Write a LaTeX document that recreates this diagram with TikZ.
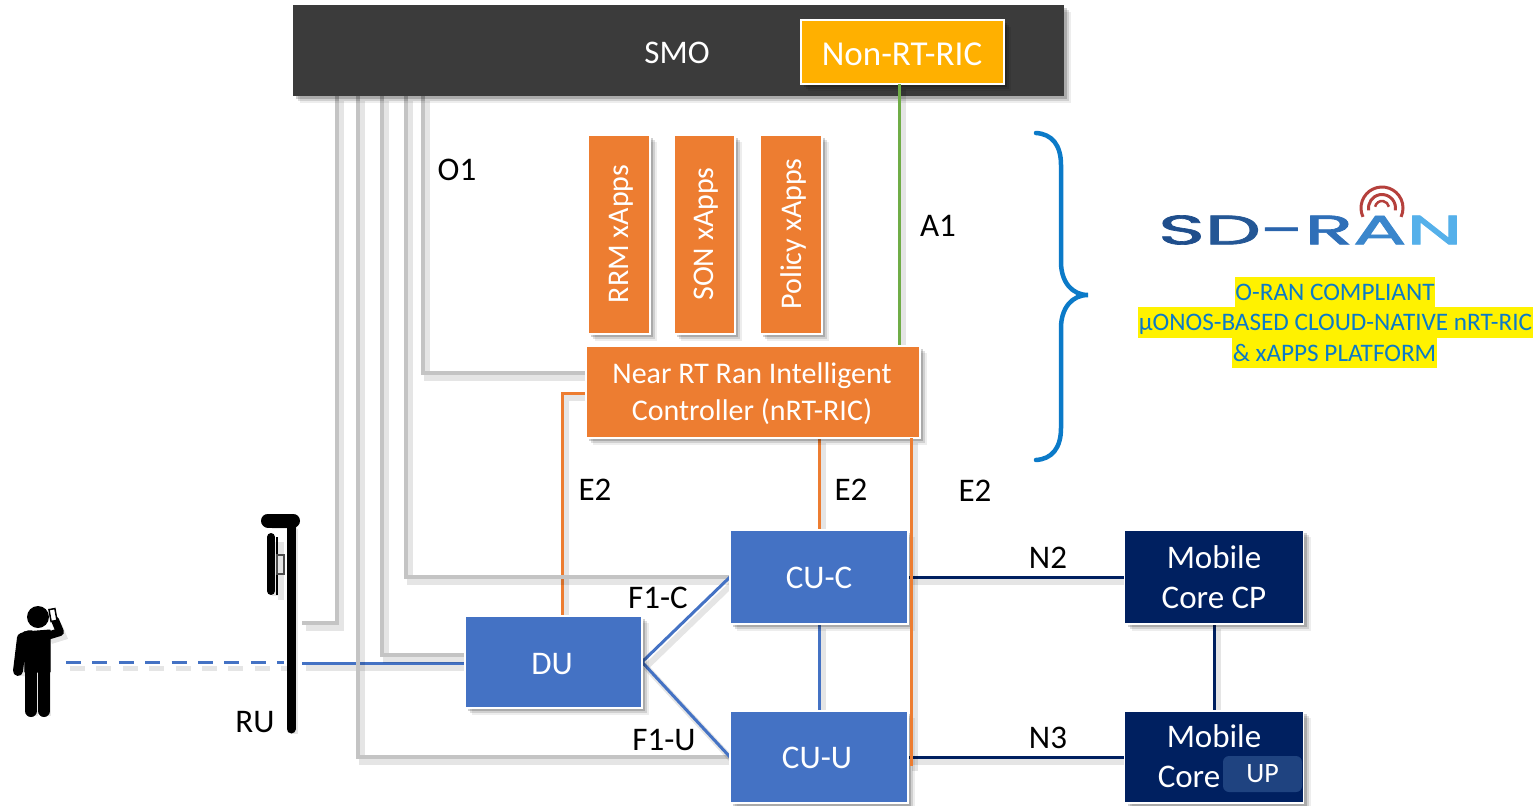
\documentclass[tikz,border=0pt]{standalone}
\usepackage{fontspec}
\setmainfont{Carlito}
\newfontfamily\logofont[FakeBold=1.6]{Poppins}
\usetikzlibrary{shadows}
\definecolor{smoc}{HTML}{3B3B3B}
\definecolor{ambc}{HTML}{FFB000}
\definecolor{orgc}{HTML}{ED7D31}
\definecolor{bluc}{HTML}{4472C4}
\definecolor{navc}{HTML}{002060}
\definecolor{grac}{HTML}{C4C4C4}
\definecolor{grnc}{HTML}{70AD47}
\definecolor{brac}{HTML}{0B7AC8}
\definecolor{upbc}{HTML}{1F4380}
\definecolor{redc}{HTML}{B5403C}
\tikzset{
  x=1pt,y=-1pt,
  softshadow/.style={
    general shadow={shadow xshift=7pt,shadow yshift=-7pt,fill=black,draw=none,opacity=.07},
    general shadow={shadow xshift=5pt,shadow yshift=-5pt,fill=black,draw=none,opacity=.12},
    general shadow={shadow xshift=3pt,shadow yshift=-3pt,fill=black,draw=none,opacity=.18}},
  boxb/.style={rectangle,softshadow,draw=white,line width=1.5pt,inner sep=0pt,outer sep=0pt},
  anchorbox/.style={inner sep=0pt,outer sep=0pt},
  boxtext/.style={inner sep=0pt,text=white,align=center,font=\fontsize{33}{40}\selectfont},
  lineshadow/.style={preaction={draw=black,opacity=.10,line width=6pt,transform canvas={shift={(4pt,-5pt)}}}},
  link/.style={line width=3pt,lineshadow},
  graylink/.style={link,draw=grac,line width=3.5pt},
  bluelink/.style={link,draw=bluc},
  navlink/.style={link,draw=navc},
  orglink/.style={link,draw=orgc},
  lbl/.style={inner sep=0pt,font=\fontsize{33}{36}\selectfont,text=black},
  slogan/.style={fill=yellow,text=brac,inner sep=0pt,minimum height=30.5pt,text height=21pt,text depth=5pt,font=\fontsize{25.2}{30}\selectfont},
  blackbar/.style={draw=black,line cap=round,line join=round,lineshadow},
}
\begin{document}
\begin{tikzpicture}
\useasboundingbox (0,0) rectangle (1540,806);
% helpers for connector positions
\coordinate (g1) at (337,0); \coordinate (g2) at (358,0); \coordinate (g3) at (382,0);
\coordinate (g4) at (406,0); \coordinate (g5) at (423,0);
\coordinate (ylow) at (0,373); \coordinate (yorg) at (0,393); \coordinate (xorgl) at (562,0);
\coordinate (xorgr) at (911,0); \coordinate (xmid) at (819,0); \coordinate (xa1) at (899,0);
\coordinate (yorgend) at (0,766); \coordinate (ydu) at (0,655);
\coordinate (polesite) at (302,623);
\coordinate (polesite2) at (302,663);
\coordinate (ue) at (66,662); \coordinate (uepole) at (284,662);

% boxes are placed first as anchors for connectors
\path (678.5,50.5) node[anchorbox,minimum width=771pt,minimum height=91pt] (smo) {};
\path (902.5,52) node[anchorbox,minimum width=203pt,minimum height=64pt] (nonrt) {};
\path (753,392) node[anchorbox,minimum width=334pt,minimum height=92pt] (ric) {};
\path (553.5,662) node[anchorbox,minimum width=177pt,minimum height=92pt] (du) {};
\path (819,577) node[anchorbox,minimum width=178pt,minimum height=94pt] (cuc) {};
\path (819,757) node[anchorbox,minimum width=178pt,minimum height=92pt] (cuu) {};
\path (1214,577) node[anchorbox,minimum width=179pt,minimum height=94pt] (corecp) {};
\path (1214,757) node[anchorbox,minimum width=179pt,minimum height=92pt] (coreup) {};

% coloured links below the grey ones
\draw[orglink] (ric.west |- yorg) -- (xorgl |- yorg) -- (xorgl |- du.north);
\draw[bluelink] (polesite2) -- (polesite2 -| du.west);
\draw[bluelink] (cuc.south) -- (cuu.north);
\draw[orglink] (ric.south -| xmid) -- (cuc.north);
\draw[navlink] (corecp.south) -- (coreup.north);
\draw[navlink] (cuc.east) -- (corecp.west);
\draw[navlink] (cuu.east) -- (coreup.west);
\draw[draw=black,opacity=.10,line width=5pt,dash pattern=on 15pt off 11.4pt,transform canvas={shift={(4pt,-6pt)}}] (ue) -- (uepole);
\draw[bluc,line width=3pt,dash pattern=on 15pt off 11.4pt] (ue) -- (uepole);

% grey O1 links
\draw[graylink] (smo.south -| g5) |- (ric.west |- ylow);
\draw[graylink] (smo.south -| g4) |- (cuc.west);
\draw[graylink] (smo.south -| g3) |- (du.west |- ydu);
\draw[graylink] (smo.south -| g2) |- (cuu.west);
\draw[graylink] (smo.south -| g1) |- (polesite);

% boxes
\node[boxb,fill=smoc,draw=none,minimum width=771pt,minimum height=91pt] at (smo) {};
\node[boxtext] (smolabel) at (677,53) {SMO};
\node[boxb,fill=ambc,minimum width=203pt,minimum height=64pt] at (nonrt) {};
\node[boxtext,font=\fontsize{35}{40}\selectfont] (nonrtlabel) at (902,54) {Non-RT-RIC};
\draw[link,draw=grnc] (nonrt.south -| xa1) -- (ric.north -| xa1);
\node[boxb,fill=orgc,minimum width=62pt,minimum height=199pt] (rrm) at (619,234.5) {};
\node[boxb,fill=orgc,minimum width=61pt,minimum height=199pt] (son) at (704.5,234.5) {};
\node[boxb,fill=orgc,minimum width=62pt,minimum height=199pt] (pol) at (791,234.5) {};
\node[boxtext,font=\fontsize{30}{36}\selectfont] (rrml) at (621,234) {\rotatebox{90}{RRM xApps}};
\node[boxtext,font=\fontsize{30}{36}\selectfont] (sonl) at (706,234) {\rotatebox{90}{SON xApps}};
\node[boxtext,font=\fontsize{30}{36}\selectfont] (poll) at (793,234) {\rotatebox{90}{Policy xApps}};
\node[boxb,fill=orgc,minimum width=334pt,minimum height=92pt] at (ric) {};
\node[boxtext,font=\fontsize{30}{37}\selectfont] (ricl) at (752,394) {Near RT Ran Intelligent\\Controller (nRT-RIC)};
\draw[bluelink] (du.east) -- (cuc.west);
\draw[bluelink] (du.east) -- (cuu.west);
\node[boxb,fill=bluc,minimum width=177pt,minimum height=92pt] at (du) {};
\node[boxtext] (dul) at (552,664) {DU};
\node[boxb,fill=bluc,minimum width=178pt,minimum height=94pt] at (cuc) {};
\node[boxtext] (cucl) at (819,578) {CU-C};
\node[boxb,fill=bluc,minimum width=178pt,minimum height=92pt] at (cuu) {};
\node[boxtext] (cuul) at (817,758) {CU-U};
\node[boxb,fill=navc,minimum width=179pt,minimum height=94pt] at (corecp) {};
\node[boxtext] (corecpl) at (1214,577) {Mobile\\Core CP};
\node[boxb,fill=navc,minimum width=179pt,minimum height=92pt] at (coreup) {};
\node[boxtext] (mob) at (1214,736) {Mobile};
\node[boxtext] (cor) at (1189,777) {Core};
\node[fill=upbc,rounded corners=6pt,minimum width=79pt,minimum height=36pt,inner sep=0pt,text=white,font=\fontsize{28}{30}\selectfont] (upb) at (1262.5,774) {UP};
\draw[orglink] (ric.south -| xorgr) -- (xorgr |- yorgend);

% labels
\node[lbl] (lo1) at (457,170) {O1};
\node[lbl] (la1) at (938,226) {A1};
\node[lbl] (le1) at (595,490) {E2};
\node[lbl] (le2) at (851,490) {E2};
\node[lbl] (le3) at (975,491) {E2};
\node[lbl] (lf1) at (658,598) {F1-C};
\node[lbl] (lf2) at (664,740) {F1-U};
\node[lbl] (ln2) at (1048,558) {N2};
\node[lbl] (ln3) at (1048,738) {N3};
\node[lbl] (lru) at (255,722) {RU};

% RU pole and antenna
\draw[blackbar,line width=9pt] (291,524) -- (291,729);
\draw[blackbar,line width=14pt] (268,520.5) -- (293,520.5);
\draw[blackbar,line width=8pt] (271,537) -- (271,591);
\draw[blackbar,line width=1.5pt,line cap=butt] (277,537) -- (277,595);
\draw[black!70,line width=1.2pt] (277,555) rectangle (284,574);

% person
\fill[black] (38,617) circle (11pt);
\draw[black,fill=black,line join=round,line width=1pt] (24,632) -- (50,630) -- (50,672) -- (25,672) -- cycle;
\draw[blackbar,line width=10pt] (30,635) -- (22,638) -- (18,671);
\draw[blackbar,line width=12pt] (31,668) -- (31,711);
\draw[blackbar,line width=12pt] (44,668) -- (44,711);
\draw[blackbar,line width=8pt] (47,636) -- (60,632) -- (55,620);
\draw[black,line width=1.5pt,fill=white,rotate around={10:(53,615)}] (50,609) rectangle (56,621);

% brace
\draw[brac,line width=4.5pt,line cap=round] (1036,133) .. controls (1052,134) and (1061,145) .. (1061,165)
  -- (1061,262) .. controls (1061,282) and (1072,295) .. (1088,295)
  .. controls (1072,295) and (1061,308) .. (1061,328)
  -- (1061,428) .. controls (1061,448) and (1052,459) .. (1036,460);

% logo
\node[inner sep=0pt,anchor=west] (logo) at (1158,230) {\resizebox{304pt}{29pt}{\logofont
  \textcolor[HTML]{1F4E8C}{S}\textcolor[HTML]{245795}{D}\textcolor[HTML]{2A64AC}{-}\textcolor[HTML]{2F6FB8}{R}\textcolor[HTML]{3A86CC}{A}\textcolor[HTML]{55B0EA}{N}}};
\draw[redc,line width=3pt] (1382,208) ++(-205:21) arc (-205:25:21);
\draw[redc,line width=3pt] (1382,208) ++(-190:13.5) arc (-190:10:13.5);
\draw[redc,line width=2.5pt] (1382,208) ++(-170:7) arc (-170:-10:7);

% slogan
\node[slogan,minimum width=198pt] (s1) at (1335,292) {O-RAN COMPLIANT};
\node[slogan,minimum width=395pt] (s2) at (1335.5,322.5) {µONOS-BASED CLOUD-NATIVE nRT-RIC};
\node[slogan,minimum width=205pt] (s3) at (1334.5,353) {\& xAPPS PLATFORM};
\end{tikzpicture}
\end{document}
